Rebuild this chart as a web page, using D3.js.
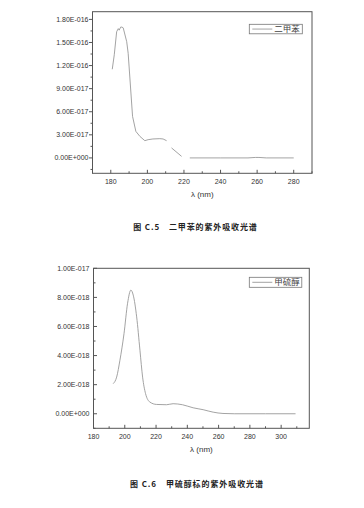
<!DOCTYPE html>
<html>
<head>
<meta charset="utf-8">
<script src="https://cdn.jsdelivr.net/npm/d3@7"></script>
<style>
  body { margin: 0; background: #fff; }
  svg { display: block; }
  text { font-family: "Liberation Sans", Arial, sans-serif; fill: #333; }
  .cjk { font-family: "Noto Sans CJK SC", sans-serif; }
</style>
</head>
<body>
<div id="page"></div>
<script>
// xylene (二甲苯), gaps (null) as seen in the picture
var xyleneX = [180.8, 181.9, 183.2, 184.1, 184.6, 185.4, 186.1, 186.8, 188.7, 189.5, 191.9, 193.7, 195.9, 198.6, 200.4, 203, 206.8, 208.6, 210.5, 211.8, 213.2, 218.7, 221, 223.2, 240, 255, 259, 261, 265, 280];
var xyleneY = [1.152e-16, 1.34e-16, 1.64e-16, 1.68e-16, 1.66e-16, 1.70e-16, 1.70e-16, 1.69e-16, 1.51e-16, 1.36e-16, 0.54e-16, 0.345e-16, 0.28e-16, 0.224e-16, 0.237e-16, 0.246e-16, 0.25e-16, 0.246e-16, 0.224e-16, null, 0.13e-16, 0.02e-16, null, 0, 0, 0, 0.006e-16, 0.006e-16, 0, 0];

// methanethiol (甲硫醇)
var thiolX = [192.6, 194.8, 196.9, 199.5, 201.8, 203.9, 205.4, 207.6, 209.7, 211.4, 213.3, 216.1, 220.3, 226.7, 230.9, 236.9, 243.7, 250.1, 256.5, 262.8, 270, 290, 309.2];
var thiolY = [2.07e-18, 2.52e-18, 3.68e-18, 5.5e-18, 7.6e-18, 8.5e-18, 8.16e-18, 6.66e-18, 4.37e-18, 2.52e-18, 1.38e-18, 0.8e-18, 0.64e-18, 0.62e-18, 0.69e-18, 0.62e-18, 0.41e-18, 0.28e-18, 0.11e-18, 0.02e-18, 0, 0, 0];

var xTicks1 = [180, 200, 220, 240, 260, 280];
var yTicks1 = [0, 3e-17, 6e-17, 9e-17, 1.2e-16, 1.5e-16, 1.8e-16];
var yLabels1 = ["0.00E+000", "3.00E-017", "6.00E-017", "9.00E-017", "1.20E-016", "1.50E-016", "1.80E-016"];

var xTicks2 = [180, 200, 220, 240, 260, 280, 300];
var yTicks2 = [0, 2e-18, 4e-18, 6e-18, 8e-18, 1e-17];
var yLabels2 = ["0.00E+000", "2.00E-018", "4.00E-018", "6.00E-018", "8.00E-018", "1.00E-017"];

var W = 364, H = 508;
var svg = d3.select("#page").append("svg").attr("width", W).attr("height", H);

function drawChart(o) {
    var x = d3.scaleLinear().domain(o.xDomain).range([o.left, o.right]);
    var y = d3.scaleLinear().domain(o.yDomain).range([o.bottom, o.top]);
    var g = svg.append("g");

    // frame
    g.append("rect")
        .attr("x", o.left).attr("y", o.top)
        .attr("width", o.right - o.left).attr("height", o.bottom - o.top)
        .attr("fill", "none").attr("stroke", "#555").attr("stroke-width", 1);

    // x ticks (inside)
    var xMinor = d3.range(o.xDomain[0], o.xDomain[1] + 0.1, 10);
    xMinor.forEach(function (t) {
        var major = xTicks(o).indexOf(t) >= 0;
        g.append("line")
            .attr("x1", x(t)).attr("x2", x(t))
            .attr("y1", o.bottom).attr("y2", o.bottom - (major ? 3.5 : 2))
            .attr("stroke", "#555");
    });
    o.xTicks.forEach(function (t) {
        g.append("text")
            .attr("x", x(t)).attr("y", o.bottom + 11)
            .attr("text-anchor", "middle")
            .style("font-size", "7px")
            .text(t);
    });

    // y ticks
    var dir = o.yTickOut ? -1 : 1;
    var step = o.yTicks[1] - o.yTicks[0];
    for (var v = o.yTicks[0] - step; v <= o.yDomain[1] + 1e-30; v += step / 2) {
        if (v < o.yDomain[0] - 1e-30) continue;
        var isMajor = Math.abs(Math.round(v / step) * step - v) < step * 0.01;
        g.append("line")
            .attr("x1", o.left).attr("x2", o.left + dir * (isMajor ? 3.5 : 2))
            .attr("y1", y(v)).attr("y2", y(v))
            .attr("stroke", "#555");
    }
    o.yTicks.forEach(function (t, i) {
        g.append("text")
            .attr("x", o.left - 4).attr("y", y(t))
            .attr("dy", "0.35em")
            .attr("text-anchor", "end")
            .style("font-size", "7px")
            .text(o.yLabels[i]);
    });

    // axis title
    g.append("text")
        .attr("x", (o.left + o.right) / 2).attr("y", o.bottom + 23.5)
        .attr("text-anchor", "middle")
        .style("font-size", "8px")
        .text("λ (nm)");

    // curve
    var pts = o.xs.map(function (d, i) { return {x: d, y: o.ys[i]}; });
    var line = d3.line()
        .defined(function (d) { return d.y !== null; })
        .x(function (d) { return x(d.x); })
        .y(function (d) { return y(d.y); })
        .curve(o.curve);
    g.append("path")
        .datum(pts)
        .attr("d", line)
        .attr("fill", "none")
        .attr("stroke", "#999")
        .attr("stroke-width", 0.9);

    // legend
    var lg = g.append("g");
    lg.append("rect")
        .attr("x", o.legend[0]).attr("y", o.legend[1])
        .attr("width", o.legend[2]).attr("height", o.legend[3])
        .attr("fill", "#fff").attr("stroke", "#777").attr("stroke-width", 0.8);
    lg.append("line")
        .attr("x1", o.legend[0] + 3).attr("x2", o.legend[0] + 23)
        .attr("y1", o.legend[1] + o.legend[3] / 2).attr("y2", o.legend[1] + o.legend[3] / 2)
        .attr("stroke", "#999").attr("stroke-width", 0.9);
    lg.append("text")
        .attr("class", "cjk")
        .attr("x", o.legend[0] + 25).attr("y", o.legend[1] + o.legend[3] / 2)
        .attr("dy", "0.36em")
        .style("font-size", "8.5px")
        .style("fill", "#444")
        .text(o.name);

    // caption
    g.append("text")
        .attr("class", "cjk")
        .attr("x", o.caption[0]).attr("y", o.caption[1])
        .attr("textLength", o.caption[2])
        .attr("lengthAdjust", "spacing")
        .style("font-size", "8px")
        .style("font-weight", "bold")
        .style("fill", "#222")
        .text(o.captionText);
}

function xTicks(o) { return o.xTicks; }

drawChart({
    left: 92.5, right: 312, top: 11.7, bottom: 173.3,
    xDomain: [170, 290], yDomain: [-2e-17, 1.9e-16],
    xTicks: xTicks1, yTicks: yTicks1, yLabels: yLabels1, yTickOut: true,
    xs: xyleneX, ys: xyleneY, curve: d3.curveLinear,
    name: "二甲苯",
    legend: [249.3, 24.3, 53, 9.5],
    caption: [133.3, 229.5, 123.5],
    captionText: "图 C.5　二甲苯的紫外吸收光谱"
});

drawChart({
    left: 93.5, right: 309.3, top: 268.3, bottom: 428.3,
    xDomain: [180, 318], yDomain: [-1e-18, 1e-17],
    xTicks: xTicks2, yTicks: yTicks2, yLabels: yLabels2, yTickOut: false,
    xs: thiolX, ys: thiolY, curve: d3.curveMonotoneX,
    name: "甲硫醇",
    legend: [249.3, 277.3, 52.5, 10],
    caption: [130, 487, 133],
    captionText: "图 C.6　甲硫醇标的紫外吸收光谱"
});
</script>
</body>
</html>
